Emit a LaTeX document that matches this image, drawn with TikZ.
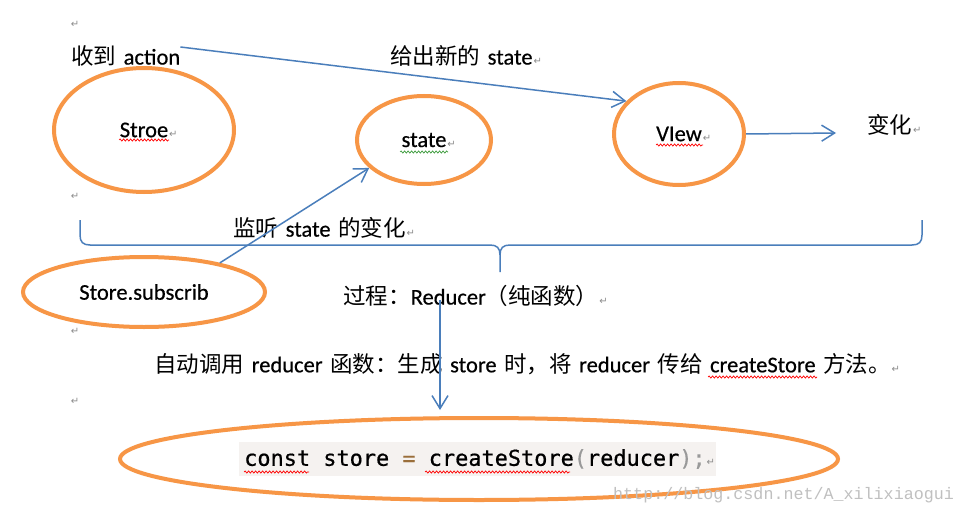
\documentclass[tikz,border=0pt]{standalone}
\usepackage{fontspec}
\setmainfont{Carlito}[FakeBold=0.5]
\newfontfamily\cjk{Noto Sans CJK SC}
\newfontfamily\dvs{DejaVu Sans}
\newfontfamily\codefont{DejaVu Sans Mono}[FakeBold=0.6]
\newfontfamily\wmfont{Liberation Mono}
\usetikzlibrary{shapes.geometric,arrows.meta,decorations.pathmorphing,calc}
\definecolor{orng}{HTML}{F79646}
\definecolor{blu}{HTML}{4A7EBB}
\definecolor{codebg}{HTML}{F5F2F0}
\definecolor{opbrown}{HTML}{9A6E3A}
\definecolor{punc}{HTML}{999999}
\definecolor{pmgray}{HTML}{8C8C8C}
\definecolor{wmgray}{HTML}{C0C0C0}
\definecolor{sqgreen}{HTML}{3A9A3A}
\newcommand\zh[1]{{\cjk #1}}
\newcommand\csp{\hspace{0.602em}}
\newcommand\widesp{\spaceskip=7.5pt\relax}
\newcommand\pmk{\rlap{\hspace{1pt}\dvs\fontsize{10}{10}\selectfont\color{pmgray}↵}}
\tikzset{
  ell/.style={ellipse, draw=orng, line width=4pt, inner sep=0pt},
  txt/.style={inner sep=0pt, font={\fontsize{22.5}{27}\selectfont\widesp}},
  arr/.style={draw=blu, line width=1.5pt, -{Straight Barb[length=13pt,width=16pt]}},
  bracepath/.style={draw=blu, line width=1.5pt},
  squig/.style={draw=red, line width=0.7pt, decorate, decoration={snake, amplitude=1.1pt, segment length=3.5pt}},
  pmark/.style={inner sep=0pt, text=pmgray, font=\dvs\fontsize{10}{10}\selectfont},
}
\begin{document}
\begin{tikzpicture}[x=1pt,y=-1pt]
\useasboundingbox[fill=white] (0,0) rectangle (966,516);

% paragraph marks
\node[pmark] (pm1) at (75,24) {↵};
\node[pmark] (pm2) at (75,196) {↵};
\node[pmark] (pm3) at (75,331) {↵};
\node[pmark] (pm4) at (75,401) {↵};

% ellipses with text
\node[ell, txt, minimum width=180pt, minimum height=124pt] (stroe) at (144,130) {Stroe\pmk};
\node[ell, txt, minimum width=134pt, minimum height=88pt] (stnode) at (424,140) {state\pmk};
\node[ell, txt, minimum width=130pt, minimum height=102pt] (view) at (679,134) {VIew\pmk};
\node[ell, txt, minimum width=242pt, minimum height=70pt] (subscrib) at (144,292) {Store.subscrib};
\node[ell, minimum width=718pt, minimum height=82pt] (codeell) at (479,459) {};

% code box
\node[anchor=west, fill=codebg, inner xsep=5pt, inner ysep=0pt, text width=467pt, minimum height=34pt, align=left,
      font=\codefont\fontsize{21.9}{26}\selectfont] (code) at (239,459)
  {const\csp store\csp{\color{opbrown}=}\csp createStore{\color{punc}(}reducer{\color{punc});}\pmk};

% free texts
\node[txt, anchor=west] (recv) at (71,56) {\zh{收到} action};
\node[txt, anchor=west] (give) at (390,56) {\zh{给出新的} state\pmk};
\node[txt, anchor=west] (chgtxt) at (867,125) {\zh{变化}\pmk};
\node[txt, anchor=west] (listen) at (233,228) {\zh{监听} state \zh{的变化}\pmk};
\node[txt, anchor=west] (proc) at (343,296) {\zh{过程：}Reducer\zh{（纯函数）}\pmk};
\node[txt, anchor=west] (auto) at (154,364) {\zh{自动调用} reducer \zh{函数：生成} store \zh{时，将} reducer \zh{传给} createStore \zh{方法。}\pmk};

% watermark
\node[inner sep=0pt, anchor=west, text=wmgray, font=\wmfont\fontsize{16.7}{20}\selectfont] (wm) at (613,495) {http://blog.csdn.net/A\_xilixiaogui};

% brace
\draw[bracepath] (80,220) -- (80,235) .. controls (80,242) and (83,245) .. (90,245) -- (490,245)
  .. controls (497,245) and (500,248) .. (500,255) -- (500,272);
\draw[bracepath] (500,255) .. controls (500,248) and (503,245) .. (510,245) -- (912,245)
  .. controls (919,245) and (922,242) .. (922,235) -- (922,220);

% connectors
\draw[arr] ([yshift=9pt]recv.east) -- (view.148);
\draw[arr] (subscrib.21) -- (stnode.207);
\coordinate (chg) at (836,133);
\draw[arr] (view.east) -- (chg);
\coordinate (a4x) at (440,0);
\draw[arr, shorten >=6pt] ($(proc.south -| a4x)+(0,-7)$) -- (a4x |- codeell.north);

% spelling squiggles
\draw[squig] (119,140) -- (169,140);
\draw[squig, draw=sqgreen] (400,152) -- (448,152);
\draw[squig] (656,145) -- (703,145);
\draw[squig] (708,377) -- (817,377);
\draw[squig] (244,472) -- (309,472);
\draw[squig] (425,472) -- (570,472);
\end{tikzpicture}
\end{document}
